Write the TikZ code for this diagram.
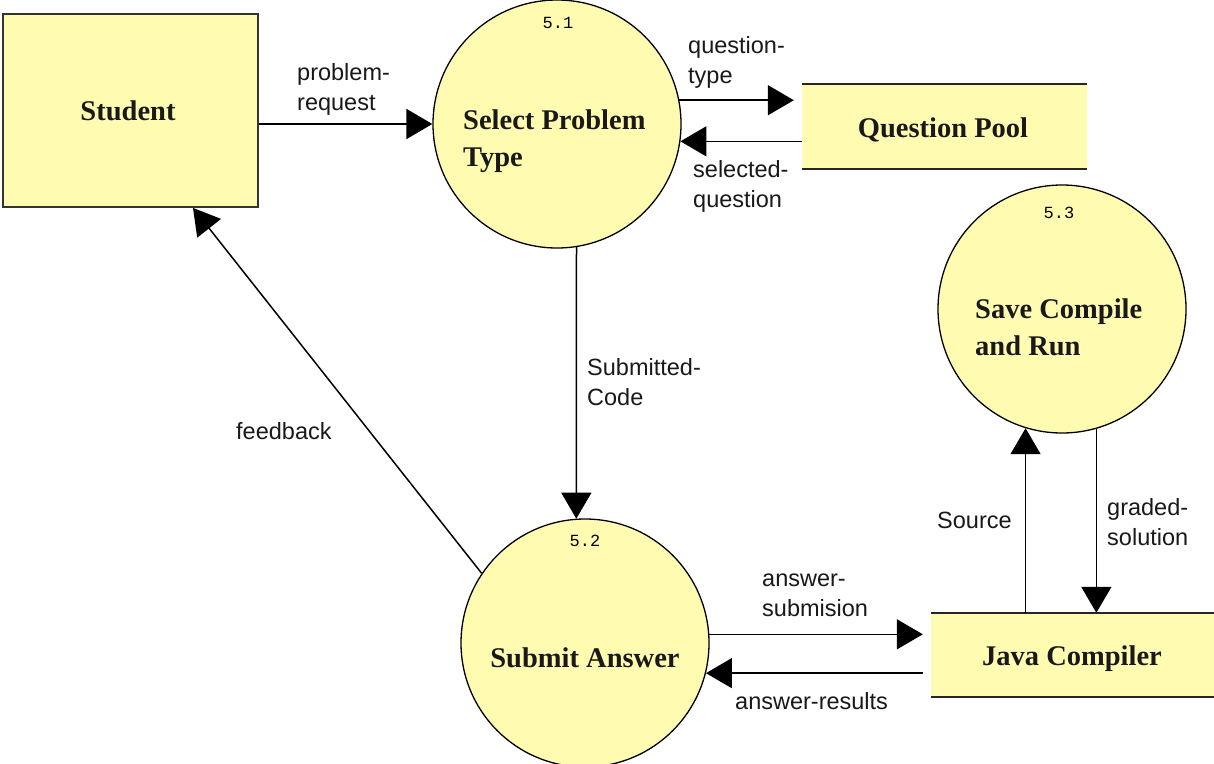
\documentclass[tikz,border=0pt]{standalone}
\usepackage{fontspec}
\setmainfont{Liberation Serif}
\setsansfont{Liberation Sans}
\setmonofont{Liberation Mono}
\usetikzlibrary{arrows.meta}
\definecolor{dfdyellow}{RGB}{255,252,178}
\tikzset{
  proc/.style={circle, draw=black, line width=1.3pt, fill=dfdyellow, minimum size=248pt, inner sep=0pt},
  extent/.style={rectangle, draw=black!80, line width=1.8pt, fill=dfdyellow, inner sep=0pt},
  store/.style={rectangle, fill=dfdyellow, inner sep=0pt},
  storeline/.style={line width=1.8pt, draw=black!85},
  title/.style={font=\fontsize{28.5}{37}\selectfont\bfseries, text=black!90, inner sep=0pt},
  flowlabel/.style={font=\sffamily\fontsize{23.5}{30}\selectfont, align=left, anchor=west, inner sep=0pt, text=black!90},
  procnum/.style={font=\ttfamily\fontsize{17}{17}\selectfont, inner sep=0pt},
  flow/.style={line width=1.5pt, -{Triangle[length=26pt,width=30pt]}},
}
\begin{document}
\begin{tikzpicture}[x=1pt,y=-1pt]
\useasboundingbox[fill=white] (0,0) rectangle (1214,763);

% external entity
\node[extent, minimum width=255pt, minimum height=193pt] (student) at (130.5,110.5) {};
\node[title] (studentlbl) at (128,111) {Student};

% processes
\node[proc] (ps) at (557,124) {};
\node[procnum] (psnum) at (558,23) {5.1};
\node[title, align=left, anchor=west] (pslbl) at (463,141) {Select Problem\\Type};

\node[proc] (sa) at (585,643) {};
\node[procnum] (sanum) at (585,541) {5.2};
\node[title] (salbl) at (585,658) {Submit Answer};

\node[proc] (sc) at (1062,309) {};
\node[procnum] (scnum) at (1059,213) {5.3};
\node[title, align=left, anchor=west] (sclbl) at (975,327) {Save Compile\\and Run};

% data stores
\node[store, minimum width=285pt, minimum height=85pt] (qp) at (944.5,126.5) {};
\node[title] (qplbl) at (943,129.5) {Question Pool};
\draw[storeline] (qp.north west) -- (qp.north east) (qp.south west) -- (qp.south east);

\node[store, minimum width=283pt, minimum height=84pt] (jc) at (1072.5,655) {};
\node[title] (jclbl) at (1072,658.5) {Java Compiler};
\draw[storeline] (jc.north west) -- (jc.north east) (jc.south west) -- (jc.south east);

% flows
\draw[flow] (student.east |- ps.west) -- (ps.west);
\draw[flow, shorten >=8pt] (ps.11) -- (ps.11 -| qp.west);
\draw[flow] (qp.west |- ps.-8) -- (ps.-8);
\draw[flow] (ps.-81) -- (sa.94);
\draw[flow] (sa.146) -- ([xshift=62.5pt]student.south);
\draw[flow, shorten >=8pt] (sa.4) -- (sa.4 -| jc.west);
\draw[flow] ([xshift=-8pt]jc.west |- sa.-14.5) -- (sa.-14.5);
\draw[flow] (jc.north -| sc.-107.5) -- (sc.-107.5);
\draw[flow] (sc.-74) -- (sc.-74 |- jc.north);

% flow labels
\node[flowlabel] (l1) at (297,89) {problem-\\request};
\node[flowlabel] (l2) at (688,62) {question-\\type};
\node[flowlabel] (l3) at (693,186) {selected-\\question};
\node[flowlabel] (l4) at (587,382) {Submitted-\\Code};
\node[flowlabel] (l5) at (236,431) {feedback};
\node[flowlabel] (l6) at (762,595) {answer-\\submision};
\node[flowlabel] (l7) at (735,701.5) {answer-results};
\node[flowlabel] (l8) at (937,520.5) {Source};
\node[flowlabel] (l9) at (1107,522.5) {graded-\\solution};
\end{tikzpicture}
\end{document}
